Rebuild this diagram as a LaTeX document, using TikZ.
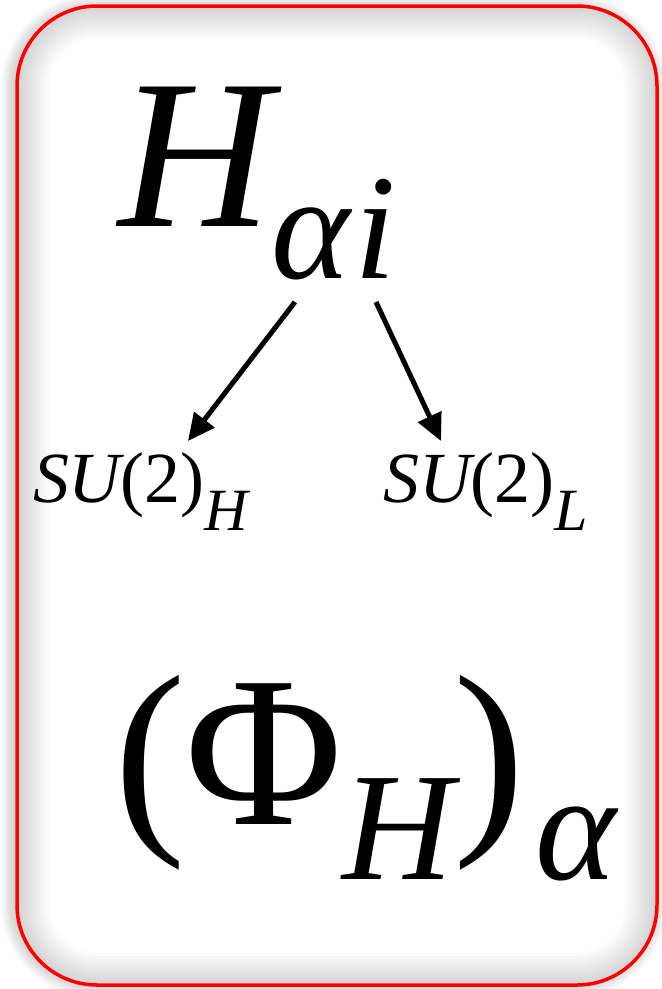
\documentclass[tikz,border=0pt]{standalone}
\usepackage{fontspec}
\setmainfont{LiberationSerif}[Extension=.ttf,UprightFont=*-Regular,ItalicFont=*-Italic,BoldFont=*-Bold]
\usetikzlibrary{arrows.meta}
\newcommand{\fsz}[1]{\fontsize{#1}{#1}\selectfont}
\begin{document}
\begin{tikzpicture}[x=1pt,y=-1pt,
  lbl/.style={anchor=base west,inner sep=0pt,outer sep=0pt},
  conn/.style={line width=5pt,-{Triangle[length=27pt,width=25pt]}},
  frame/.style={draw=red,line width=3.5pt,rounded corners=80pt}]
\useasboundingbox (0,0) rectangle (662,989);
% outer soft shadow (left side)
\foreach \w in {2,5,...,26}{
  \draw[black,opacity=0.018,line width=\w pt,rounded corners=80pt] (14,8) rectangle (654,984);
}
\fill[white,rounded corners=80pt] (17,6) rectangle (657,985);
% inner shadow
\begin{scope}
\clip[rounded corners=80pt] (17,6) rectangle (657,985);
\foreach \w in {4,10,...,64}{
  \draw[black,opacity=0.014,line width=\w pt,rounded corners=80pt] (17,6) rectangle (657,985);
}
\end{scope}
\draw[frame] (17,6) rectangle (657,985);
% texts
\node[lbl] (H) at (118,226) {\fsz{213}\itshape H\raisebox{-52pt}{\fsz{150}α\kern4pt i}};
\node[lbl] (SUH) at (33,502) {\fsz{72}\itshape SU\upshape(2)\raisebox{-28pt}{\fsz{60}\itshape H}};
\node[lbl] (SUL) at (383,502) {\fsz{72}\itshape SU\upshape(2)\raisebox{-28pt}{\fsz{60}\itshape L}};
\node[lbl] (Phi) at (114,824) {\fsz{215}(Φ\raisebox{-55pt}{\fsz{154}\itshape H})\raisebox{-55pt}{\fsz{154}\itshape\kern10pt α}};
% connectors
\coordinate (a1) at (295,302);
\coordinate (a2) at (188,441);
\coordinate (b1) at (376,302);
\coordinate (b2) at (441,441);
\draw[conn] (a1) -- (a2);
\draw[conn] (b1) -- (b2);
\end{tikzpicture}
\end{document}
